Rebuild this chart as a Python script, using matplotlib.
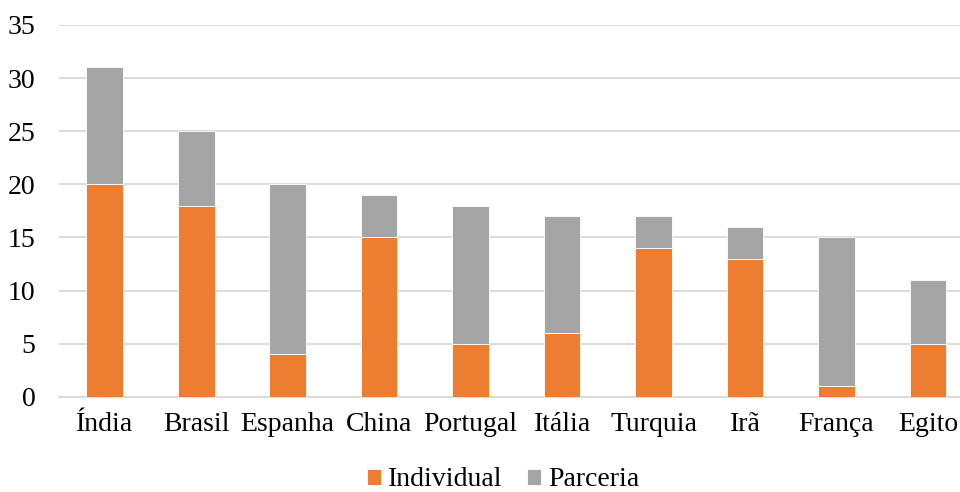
import matplotlib
matplotlib.use('Agg')
import matplotlib.pyplot as plt
import numpy as np

plt.rcParams['font.family'] = ['Liberation Serif', 'DejaVu Serif']

# countries and counts per type of authorship
paises = ['Índia', 'Brasil', 'Espanha', 'China', 'Portugal',
          'Itália', 'Turquia', 'Irã', 'França', 'Egito']
individual = [20, 18, 4, 15, 5, 6, 14, 13, 1, 5]
parceria = [11, 7, 16, 4, 13, 11, 3, 3, 14, 6]

laranja = '#ED7D31'
cinza = '#A5A5A5'
grade = '#D9D9D9'

fig = plt.figure(figsize=(9.6, 4.92), dpi=100)
ax = fig.add_axes([59 / 960, 95.3 / 492, 901 / 960, 371.7 / 492])

x = np.arange(len(paises))
ax.bar(x, individual, width=0.4, color=laranja, edgecolor='white',
       linewidth=0.6, label='Individual', zorder=3)
ax.bar(x, parceria, width=0.4, bottom=individual, color=cinza,
       edgecolor='white', linewidth=0.6, label='Parceria', zorder=3)

ax.set_ylim(0, 35)
ax.set_xlim(-0.5, 9.35)
ax.set_yticks(range(0, 36, 5))
ax.yaxis.grid(True, color=grade, linewidth=1.3, zorder=0)
ax.set_axisbelow(True)

for s in ['top', 'right', 'left']:
    ax.spines[s].set_visible(False)
ax.spines['bottom'].set_color(grade)
ax.spines['bottom'].set_linewidth(1.3)

ax.set_xticks(x)
ax.set_xticklabels(paises)
ax.tick_params(axis='both', length=0, labelsize=20, colors='black')
ax.tick_params(axis='y', pad=17)
ax.tick_params(axis='x', pad=11)

fig.legend(loc='center', bbox_to_anchor=(503 / 960, 1 - 480 / 492), ncol=2,
           frameon=False, fontsize=20, handlelength=0.5, handleheight=0.5,
           handletextpad=0.25, columnspacing=0.9, borderpad=0)

fig.savefig('out.png', dpi=100)
